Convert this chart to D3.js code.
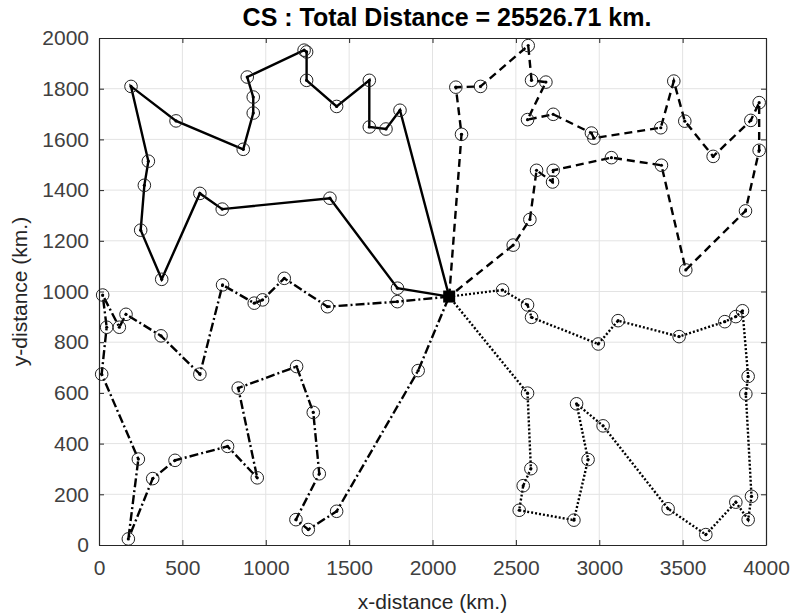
<!DOCTYPE html>
<html>
<head>
<meta charset="utf-8">
<script src="https://cdn.jsdelivr.net/npm/d3@7"></script>
<style>
  body { margin: 0; background: #fff; }
  svg { font-family: "Liberation Sans", Arial, Helvetica, sans-serif; }
</style>
</head>
<body>
<div id="chart"></div>
<script>
// depot + the four routes (km)
var depot = [2100, 980];

var routeSolid = [
  [1805,1715],[1721,1641],[1621,1649],[1621,1833],[1425,1730],[1245,1833],
  [1245,1945],[1230,1952],[889,1846],[925,1767],[925,1704],[865,1561],
  [462,1673],[192,1809],[296,1514],[272,1419],[250,1242],[376,1048],
  [605,1387],[739,1325],[1385,1368],[1790,1013]
];

var routeDashed = [
  [2174,1620],[2140,1806],[2288,1809],[2574,1970],[2594,1833],[2680,1826],
  [2570,1678],[2724,1699],[2953,1625],[2968,1605],[3369,1646],[3447,1830],
  [3513,1672],[3683,1533],[3909,1675],[3959,1745],[3959,1557],[3877,1318],
  [3519,1085],[3373,1498],[3073,1528],[2724,1478],[2720,1432],[2624,1478],
  [2584,1284],[2484,1183]
];

var routeDashDot = [
  [1789,960],[1370,940],[1111,1052],[981,967],[931,954],[741,1026],
  [605,674],[372,825],[162,910],[122,859],[22,986],[46,859],[16,674],
  [236,339],[176,24],[322,262],[456,334],[771,389],[949,265],[835,619],
  [1185,704],[1285,523],[1321,281],[1181,100],[1255,61],[1425,133],[1914,688]
];

var routeDotted = [
  [2420,1006],[2570,947],[2594,898],[2994,793],[3113,885],[3479,822],
  [3753,881],[3819,901],[3859,924],[3893,665],[3879,596],[3913,192],
  [3893,100],[3819,169],[3639,41],[3413,143],[3023,470],[2864,557],
  [2933,337],[2848,98],[2520,137],[2544,234],[2590,301],[2570,599]
];

var xTicks = [0, 500, 1000, 1500, 2000, 2500, 3000, 3500, 4000];
var yTicks = [0, 200, 400, 600, 800, 1000, 1200, 1400, 1600, 1800, 2000];
var titleText = "CS : Total Distance = 25526.71 km.";

// set the dimensions and margins of the graph
var margin = {top: 38, right: 26, bottom: 70, left: 99},
    width = 792 - margin.left - margin.right,
    height = 615 - margin.top - margin.bottom;

var svg = d3.select("#chart")
  .append("svg")
    .attr("width", 792)
    .attr("height", 615)
  .append("g")
    .attr("transform", "translate(" + margin.left + "," + margin.top + ")");

var x = d3.scaleLinear().domain([0, 4000]).range([0, width]);
var y = d3.scaleLinear().domain([0, 2000]).range([height, 0]);

// grid
svg.append("g").selectAll("line.gx")
  .data(xTicks.slice(1, -1)).enter().append("line")
    .attr("x1", function(d) { return x(d); }).attr("x2", function(d) { return x(d); })
    .attr("y1", 0).attr("y2", height)
    .attr("stroke", "#e3e3e3").attr("stroke-width", 1);
svg.append("g").selectAll("line.gy")
  .data(yTicks.slice(1, -1)).enter().append("line")
    .attr("y1", function(d) { return y(d); }).attr("y2", function(d) { return y(d); })
    .attr("x1", 0).attr("x2", width)
    .attr("stroke", "#e3e3e3").attr("stroke-width", 1);

// axes (ticks pointing inward, box on)
function styleAxis(g) {
  g.select(".domain").attr("stroke", "#262626").attr("stroke-width", 1.2);
  g.selectAll(".tick line").attr("stroke", "#262626");
  g.selectAll(".tick text").attr("fill", "#404040").style("font-size", "21px");
}
svg.append("g")
  .attr("transform", "translate(0," + height + ")")
  .call(d3.axisBottom(x).tickValues(xTicks).tickFormat(d3.format("d"))
    .tickSize(-5).tickPadding(15).tickSizeOuter(0))
  .call(styleAxis);
svg.append("g")
  .call(d3.axisLeft(y).tickValues(yTicks).tickFormat(d3.format("d"))
    .tickSize(-5).tickPadding(10).tickSizeOuter(0))
  .call(styleAxis);
svg.append("g")
  .call(d3.axisTop(x).tickValues(xTicks).tickSize(-5).tickFormat("").tickSizeOuter(0))
  .call(styleAxis);
svg.append("g")
  .attr("transform", "translate(" + width + ",0)")
  .call(d3.axisRight(y).tickValues(yTicks).tickSize(-5).tickFormat("").tickSizeOuter(0))
  .call(styleAxis);

// routes
var line = d3.line().x(function(d) { return x(d[0]); }).y(function(d) { return y(d[1]); });
var routes = [
  {pts: routeSolid, dash: null},
  {pts: routeDashed, dash: "8,5"},
  {pts: routeDashDot, dash: "9,3,2,3"},
  {pts: routeDotted, dash: "2,2"}
];

routes.forEach(function(r) {
  var path = [depot].concat(r.pts).concat([depot]);
  svg.append("path")
    .datum(path)
    .attr("d", line)
    .attr("fill", "none")
    .attr("stroke", "#000")
    .attr("stroke-width", 2.4)
    .attr("stroke-dasharray", r.dash);

  svg.selectAll(null)
    .data(r.pts).enter().append("circle")
      .attr("cx", function(d) { return x(d[0]); })
      .attr("cy", function(d) { return y(d[1]); })
      .attr("r", 6.3)
      .attr("fill", "none")
      .attr("stroke", "#222")
      .attr("stroke-width", 1);
  svg.selectAll(null)
    .data(r.pts).enter().append("circle")
      .attr("cx", function(d) { return x(d[0]); })
      .attr("cy", function(d) { return y(d[1]); })
      .attr("r", 1.6)
      .attr("fill", "#000");
});

// depot
svg.append("rect")
  .attr("x", x(depot[0]) - 6)
  .attr("y", y(depot[1]) - 6)
  .attr("width", 12)
  .attr("height", 12)
  .attr("fill", "#000");

// title and labels
svg.append("text")
  .attr("x", 348)
  .attr("y", -12)
  .attr("text-anchor", "middle")
  .style("font-size", "25px")
  .style("font-weight", "bold")
  .attr("fill", "#000")
  .text(titleText);

svg.append("text")
  .attr("x", width / 2)
  .attr("y", height + 64)
  .attr("text-anchor", "middle")
  .style("font-size", "21px")
  .attr("fill", "#262626")
  .text("x-distance (km.)");

svg.append("text")
  .attr("transform", "translate(-72," + (height / 2) + ")rotate(-90)")
  .attr("text-anchor", "middle")
  .style("font-size", "21px")
  .attr("fill", "#262626")
  .text("y-distance (km.)");
</script>
</body>
</html>
